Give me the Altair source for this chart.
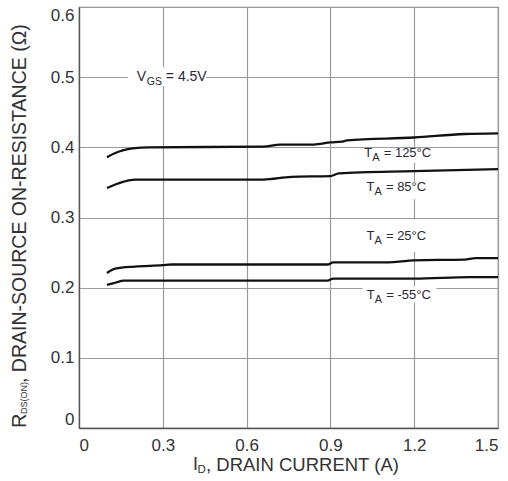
import altair as alt
import pandas as pd

# ---- data ----
X_125 = [0.10, 0.13, 0.16, 0.20, 0.25, 0.66, 0.72, 0.84, 0.90, 0.94, 0.96, 1.20, 1.38, 1.50]
Y_125 = [0.386, 0.392, 0.396, 0.399, 0.400, 0.401, 0.404, 0.404, 0.407, 0.408, 0.410, 0.414, 0.419, 0.420]

X_85 = [0.10, 0.13, 0.16, 0.20, 0.66, 0.76, 0.90, 0.93, 1.20, 1.50]
Y_85 = [0.342, 0.347, 0.351, 0.354, 0.354, 0.358, 0.359, 0.363, 0.366, 0.369]

X_25 = [0.10, 0.13, 0.20, 0.30, 0.33, 0.89, 0.91, 1.10, 1.20, 1.38, 1.42, 1.50]
Y_25 = [0.221, 0.227, 0.230, 0.232, 0.233, 0.233, 0.236, 0.236, 0.239, 0.240, 0.242, 0.242]

X_M55 = [0.10, 0.13, 0.16, 0.89, 0.91, 1.20, 1.40, 1.50]
Y_M55 = [0.204, 0.207, 0.210, 0.210, 0.213, 0.213, 0.215, 0.215]

SERIES = ["125°C", "85°C", "25°C", "-55°C"]

X_TICKS = [0, 0.3, 0.6, 0.9, 1.2, 1.5]
Y_TICKS = [0, 0.1, 0.2, 0.3, 0.4, 0.5, 0.6]

# annotation labels (T_A = ...)
LABEL_MAIN = ["T", "T", "T", "T"]
LABEL_SUB = ["A", "A", "A", "A"]
LABEL_REST = ["= 125°C", "= 85°C", "= 25°C", "= -55°C"]
LABEL_X = [1.021, 1.029, 1.029, 1.030]
LABEL_Y = [0.392, 0.344, 0.273, 0.190]
# white boxes behind the labels
BOX_X = [1.00, 1.00, 1.00, 1.015]
BOX_X2 = [1.265, 1.26, 1.26, 1.28]
BOX_Y = [0.378, 0.326, 0.251, 0.179]
BOX_Y2 = [0.398, 0.351, 0.297, 0.202]

VGS_TEXT = ["V", "GS", "= 4.5V"]
VGS_X = [0.207]
VGS_Y = [0.500]
VGS_BOX = [0.175, 0.455, 0.487, 0.514]

X_TITLE = ["I", "D", ", DRAIN CURRENT (A)"]
Y_TITLE = ["R", "DS(ON)", ", DRAIN-SOURCE ON-RESISTANCE (Ω)"]

FONT = "Liberation Sans"
TXT = "#2a2a35"

# ---- tables ----
rows = []
for name, xs, ys in zip(SERIES, [X_125, X_85, X_25, X_M55], [Y_125, Y_85, Y_25, Y_M55]):
    for a, b in zip(xs, ys):
        rows.append({"series": name, "id": a, "r": b})
curves = pd.DataFrame(rows)

labels = pd.DataFrame({
    "x": LABEL_X, "y": LABEL_Y, "main": LABEL_MAIN, "sub": LABEL_SUB, "rest": LABEL_REST,
})
boxes = pd.DataFrame({
    "x": BOX_X + [VGS_BOX[0]], "x2": BOX_X2 + [VGS_BOX[1]],
    "y": BOX_Y + [VGS_BOX[2]], "y2": BOX_Y2 + [VGS_BOX[3]],
})
vgs = pd.DataFrame({"x": VGS_X, "y": VGS_Y, "a": [VGS_TEXT[0]], "b": [VGS_TEXT[1]], "c": [VGS_TEXT[2]]})

x_scale = alt.Scale(domain=[0, 1.5], nice=False, zero=False)
y_scale = alt.Scale(domain=[0, 0.6], nice=False)

label_expr = "datum.value == 0 ? '0' : format(datum.value, '.1f')"
x_axis = alt.Axis(values=X_TICKS, labelExpr=label_expr, title=None, grid=True, ticks=False,
                  labelPadding=9, labelFontSize=17, labelFont=FONT, labelColor="#333",
                  domainColor="#555", domainWidth=1.3, gridColor="#9a9a9a", gridWidth=1.2,
                  labelFlush=True)
y_axis = alt.Axis(values=Y_TICKS, labelExpr=label_expr, title=None, grid=True, ticks=False,
                  labelPadding=5, labelFontSize=17, labelFont=FONT, labelColor="#333",
                  domainColor="#555", domainWidth=1.3, gridColor="#9a9a9a", gridWidth=1.2,
                  labelFlush=True)

base_axes = alt.Chart(curves).mark_line(opacity=0).encode(
    x=alt.X("id:Q", scale=x_scale, axis=x_axis),
    y=alt.Y("r:Q", scale=y_scale, axis=y_axis),
    detail="series:N",
)

box_layer = alt.Chart(boxes).mark_rect(color="white").encode(
    x=alt.X("x:Q", scale=x_scale), x2="x2:Q",
    y=alt.Y("y:Q", scale=y_scale), y2="y2:Q",
)

line_layer = alt.Chart(curves).mark_line(color="#111", strokeWidth=2.3, interpolate="monotone").encode(
    x=alt.X("id:Q", scale=x_scale),
    y=alt.Y("r:Q", scale=y_scale),
    detail="series:N",
)

def txt(df, field, size, dx=0, dy=0):
    return alt.Chart(df).mark_text(align="left", baseline="middle", font=FONT, fontSize=size,
                                   color=TXT, dx=dx, dy=dy).encode(
        x=alt.X("x:Q", scale=x_scale), y=alt.Y("y:Q", scale=y_scale), text=f"{field}:N")

lab_main = txt(labels, "main", 13)
lab_sub = txt(labels, "sub", 11, dx=8, dy=5)
lab_rest = txt(labels, "rest", 13, dx=19.5)

vgs_a = txt(vgs, "a", 14)
vgs_b = txt(vgs, "b", 10.5, dx=10, dy=5)
vgs_c = txt(vgs, "c", 14, dx=29)

one = pd.DataFrame({"k": [0]})

def ptext(s, x, y, size, angle=0):
    return alt.Chart(one).mark_text(text=s, align="left", baseline="middle", font=FONT,
                                    fontSize=size, color="#333", angle=angle).encode(
        x=alt.value(x), y=alt.value(y))

# x title (pixel positions relative to plot area)
xt1 = ptext(X_TITLE[0], 114, 458, 18)
xt2 = ptext(X_TITLE[1], 118.5, 463, 11.5)
xt3 = ptext(X_TITLE[2], 127, 458, 18.5)
# y title (rotated)
yt1 = ptext(Y_TITLE[0], -59, 421, 20, angle=270)
yt2 = ptext(Y_TITLE[1], -55, 407, 9, angle=270)
yt3 = ptext(Y_TITLE[2], -59, 376, 19.5, angle=270)

chart = alt.layer(
    base_axes, box_layer, line_layer,
    lab_main, lab_sub, lab_rest, vgs_a, vgs_b, vgs_c,
    xt1, xt2, xt3, yt1, yt2, yt3,
).properties(
    width=419, height=421,
    autosize=alt.AutoSizeParams(type="none"),
    padding={"left": 79, "top": 7, "right": 10, "bottom": 53},
    background="white",
).configure_view(stroke="#777", strokeWidth=1.2)

chart.save("out.html", embed_options={"renderer": "svg", "actions": False})
